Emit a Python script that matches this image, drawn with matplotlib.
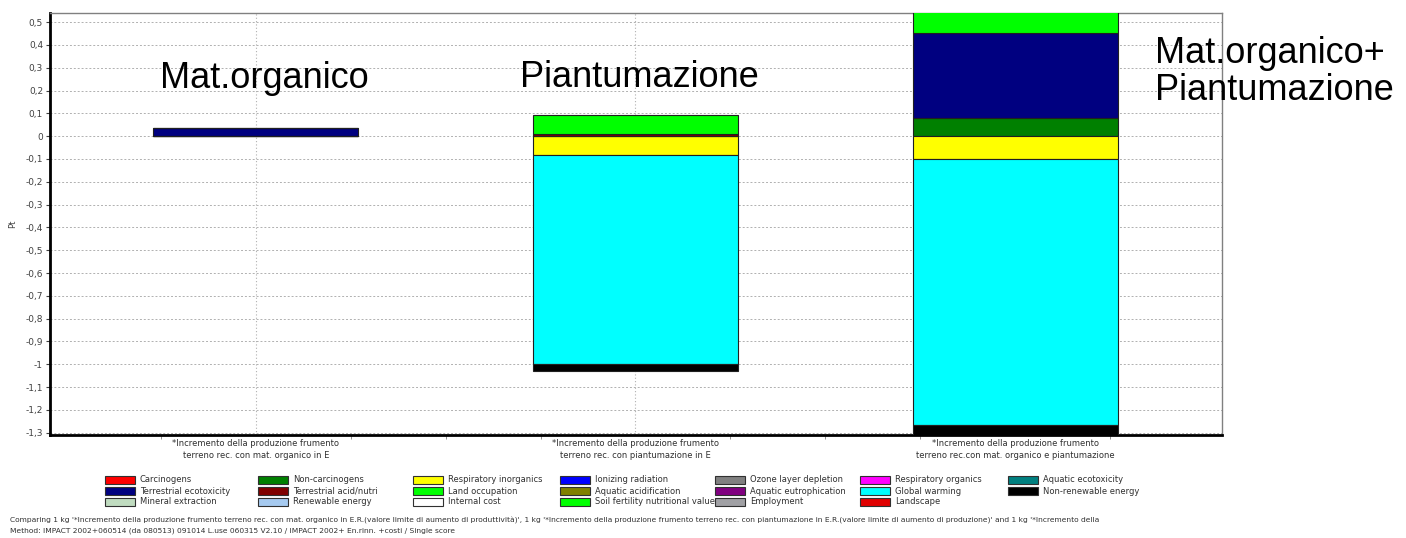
import numpy as np
import matplotlib
matplotlib.use("Agg")
import matplotlib.pyplot as plt
from matplotlib.patches import Rectangle
from matplotlib.ticker import FixedLocator

# scenarios (x axis)
scenarios = [
    '*Incremento della produzione frumento\nterreno rec. con mat. organico in E',
    '*Incremento della produzione frumento\nterreno rec. con piantumazione in E',
    '*Incremento della produzione frumento\nterreno rec.con mat. organico e piantumazione',
]
short_names = ['Mat.organico', 'Piantumazione', 'Mat.organico+\nPiantumazione']

# impact categories, in SimaPro order, and their colours
categories = [
    'Carcinogens', 'Non-carcinogens', 'Respiratory inorganics', 'Ionizing radiation',
    'Ozone layer depletion', 'Respiratory organics', 'Aquatic ecotoxicity',
    'Terrestrial ecotoxicity', 'Terrestrial acid/nutri', 'Land occupation',
    'Aquatic acidification', 'Aquatic eutrophication', 'Global warming',
    'Non-renewable energy', 'Mineral extraction', 'Renewable energy',
    'Internal cost', 'Soil fertility nutritional value', 'Employment', 'Landscape',
]
colors = [
    '#ff0000', '#008000', '#ffff00', '#0000ff',
    '#808080', '#ff00ff', '#008080',
    '#000080', '#800000', '#00ff00',
    '#808000', '#800080', '#00ffff',
    '#000000', '#c0dcc0', '#a6caf0',
    '#ffffff', '#00ff00', '#a0a0a4', '#e00000',
]

# single score values (Pt), one value per scenario
non_carcinogens = [0.0, 0.0, 0.078]
resp_inorganics = [0.0, -0.083, -0.098]
terr_ecotox = [0.037, 0.0, 0.375]
terr_acid = [0.0, 0.008, 0.0]
soil_fertility = [0.0, 0.087, 0.095]
global_warming = [0.0, -0.915, -1.17]
non_renewable = [0.0, -0.030, -0.060]

values = {name: [0.0] * len(scenarios) for name in categories}
values['Non-carcinogens'] = non_carcinogens
values['Respiratory inorganics'] = resp_inorganics
values['Terrestrial ecotoxicity'] = terr_ecotox
values['Terrestrial acid/nutri'] = terr_acid
values['Soil fertility nutritional value'] = soil_fertility
values['Global warming'] = global_warming
values['Non-renewable energy'] = non_renewable

W, H = 1406, 538
fig = plt.figure(figsize=(W / 100, H / 100), dpi=100)
ax = fig.add_axes([50 / W, 1 - 435 / H, (1222 - 50) / W, (435 - 13) / H])

x = np.arange(len(scenarios))
pos_base = np.zeros(len(scenarios))
neg_base = np.zeros(len(scenarios))
for name, col in zip(categories, colors):
    v = np.array(values[name])
    if not np.any(v):
        continue
    pos = np.where(v > 0, v, 0)
    neg = np.where(v < 0, v, 0)
    if np.any(pos):
        ax.bar(x, pos, 0.54, bottom=pos_base, color=col, edgecolor='#202020',
               linewidth=0.8, zorder=3)
        pos_base += pos
    if np.any(neg):
        ax.bar(x, neg, 0.54, bottom=neg_base, color=col, edgecolor='#202020',
               linewidth=0.8, zorder=3)
        neg_base += neg

ax.set_xlim(-0.542, 2.545)
ax.set_ylim(-1.31, 0.54)
yt = np.round(np.arange(-1.3, 0.51, 0.1), 1)
ax.set_yticks(yt)
ax.set_yticklabels([('%g' % t).replace('.', ',') if t != 0 else '0' for t in yt],
                   fontsize=6.5, color='#404040')
ax.set_xticks(x)
ax.set_xticklabels(scenarios, fontsize=6, color='#303030', linespacing=1.4)
ax.xaxis.set_minor_locator(FixedLocator(np.arange(-0.25, 2.5, 0.25)))
ax.tick_params(axis='x', which='major', length=0, pad=3)
ax.tick_params(axis='x', which='minor', length=3, color='#808080')
ax.tick_params(axis='y', length=3, color='#404040', pad=2)

ax.grid(axis='y', linestyle=(0, (2, 2)), color='#b0b0b0', linewidth=0.7, zorder=0)
ax.grid(axis='x', linestyle=(0, (1, 2)), color='#b0b0b0', linewidth=0.8, zorder=0)
for s in ['top', 'right']:
    ax.spines[s].set_color('#808080')
    ax.spines[s].set_linewidth(1)
for s in ['left', 'bottom']:
    ax.spines[s].set_color('black')
    ax.spines[s].set_linewidth(2)
ax.set_ylabel('Pt', fontsize=6, color='#404040', labelpad=6)

# big annotations over the bars
big = dict(fontsize=26, family='Liberation Sans', color='black', clip_on=False, zorder=5)
ax.text(-0.253, 0.21, short_names[0], **big)
ax.text(0.695, 0.215, short_names[1], **big)
ax.text(2.368, 0.16, short_names[2], linespacing=1.05, **big)

# legend drawn on a fixed column grid, like SimaPro does
col_x = [105, 258, 413, 560, 715, 860, 1008]
row_y = [480, 491, 502]
for i, (name, col) in enumerate(zip(categories, colors)):
    r, c = divmod(i, 7)
    x0, y0 = col_x[c], row_y[r]
    fig.patches.append(Rectangle((x0 / W, 1 - (y0 + 4) / H), 30 / W, 8 / H,
                                 transform=fig.transFigure, facecolor=col,
                                 edgecolor='#303030', linewidth=0.8))
    fig.text((x0 + 35) / W, 1 - y0 / H, name, fontsize=6, color='#303030',
             va='center', ha='left')

fig.text(10 / W, 1 - 520 / H,
         "Comparing 1 kg '*Incremento della produzione frumento terreno rec. con mat. organico in E.R.(valore limite di aumento di produttività)', "
         "1 kg '*Incremento della produzione frumento terreno rec. con piantumazione in E.R.(valore limite di aumento di produzione)' and 1 kg '*Incremento della",
         fontsize=5.4, color='#303030', va='center')
fig.text(10 / W, 1 - 531 / H,
         "Method: IMPACT 2002+060514 (da 080513) 091014 L.use 060315 V2.10 / IMPACT 2002+ En.rinn. +costi / Single score",
         fontsize=5.4, color='#303030', va='center')

fig.savefig('out.png', dpi=100)
